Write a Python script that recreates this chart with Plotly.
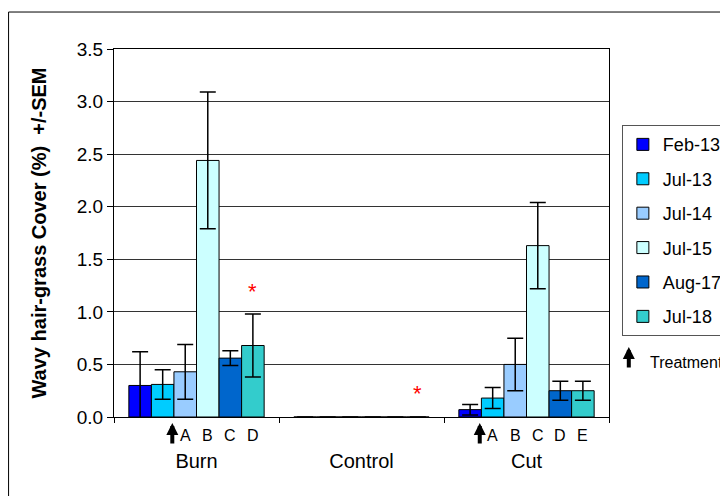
import plotly.graph_objects as go

# data
sites = ["Burn", "Control", "Cut"]
surveys = ["Feb-13", "Jul-13", "Jul-14", "Jul-15", "Aug-17", "Jul-18"]
colours = ["#0000FF", "#00CCFF", "#99CCFF", "#CCFFFF", "#0066CC", "#33CCCC"]

cover = {
    "Feb-13": [0.30, 0.0, 0.07],
    "Jul-13": [0.31, 0.0, 0.18],
    "Jul-14": [0.43, 0.0, 0.50],
    "Jul-15": [2.44, 0.0, 1.63],
    "Aug-17": [0.56, 0.0, 0.25],
    "Jul-18": [0.68, 0.0, 0.25],
}
sem = {
    "Feb-13": [0.32, 0.0, 0.05],
    "Jul-13": [0.14, 0.0, 0.10],
    "Jul-14": [0.26, 0.0, 0.25],
    "Jul-15": [0.65, 0.0, 0.41],
    "Aug-17": [0.07, 0.0, 0.09],
    "Jul-18": [0.30, 0.0, 0.09],
}

# significance stars: (site index, survey index, y)
stars = [(0, 5, 1.19), (1, 5, 0.22)]

# letters under bars: (site index, first bar index, letters), treatment arrow between bars
letters = [(0, 2, ["A", "B", "C", "D"]), (2, 1, ["A", "B", "C", "D", "E"])]
treatment_at = [(0, 1.5), (2, 0.5)]

FONT = "Arial, Liberation Sans, sans-serif"
bargap = 0.18
n = len(surveys)
bw = (1 - bargap) / n


def bar_x(site, idx):
    # centre of bar idx within the category group
    return site - (1 - bargap) / 2 + bw * (idx + 0.5)


fig = go.Figure()
for i, s in enumerate(surveys):
    fig.add_trace(go.Bar(
        x=list(range(len(sites))),
        y=cover[s],
        name=s,
        legendgroup=s,
        marker=dict(color=colours[i], line=dict(color="black", width=1)),
        error_y=dict(type="data", array=sem[s], color="black",
                     thickness=1.5, width=8),
    ))

annotations = []
for site, idx, y in stars:
    annotations.append(dict(x=bar_x(site, idx), y=y, xref="x", yref="y",
                            text="*", showarrow=False, yanchor="middle",
                            font=dict(family=FONT, size=22, color="red")))

for site, start, labs in letters:
    for k, lab in enumerate(labs):
        annotations.append(dict(x=bar_x(site, start + k), y=-0.049, xref="x",
                                yref="paper", text=lab, showarrow=False,
                                yanchor="middle",
                                font=dict(family=FONT, size=16, color="black")))

arrow_style = dict(ax=0, ay=22, text="", showarrow=True, arrowhead=2,
                   arrowsize=0.6, arrowwidth=4, arrowcolor="black")
for site, pos in treatment_at:
    annotations.append(dict(x=bar_x(site, pos) - 0.01, y=-0.016, xref="x",
                            yref="paper", **arrow_style))

# legend note
annotations.append(dict(x=1.04, y=0.19, xref="paper", yref="paper", **arrow_style))
annotations.append(dict(x=1.078, y=0.148, xref="paper", yref="paper",
                        text="Treatment", showarrow=False, xanchor="left",
                        yanchor="middle",
                        font=dict(family=FONT, size=16, color="black")))

fig.update_layout(
    width=720, height=488,
    margin=dict(l=106, r=119, t=41, b=79, autoexpand=False),
    paper_bgcolor="white", plot_bgcolor="white",
    barmode="group", bargap=bargap, bargroupgap=0,
    font=dict(family=FONT, size=19, color="black"),
    showlegend=True,
    legend=dict(x=1.026, y=0.793, xanchor="left", yanchor="top",
                bordercolor="#555555", borderwidth=1, bgcolor="white",
                font=dict(family=FONT, size=18), tracegroupgap=8,
                traceorder="grouped"),
    annotations=annotations,
    shapes=[dict(type="rect", xref="paper", yref="paper",
                 x0=-0.213, x1=1.3, y0=-0.3, y1=1.1005,
                 line=dict(color="black", width=1))],
)

fig.update_xaxes(
    tickmode="array", tickvals=list(range(len(sites))), ticktext=sites,
    range=[-0.5, len(sites) - 0.5],
    showline=True, mirror=True, linecolor="black", linewidth=1,
    ticks="", showgrid=False, zeroline=False,
    ticklabelstandoff=26, tickfont=dict(size=20),
)
# boundary ticks
fig.update_layout(xaxis2=dict(overlaying="x", matches="x", range=[-0.5, len(sites) - 0.5],
                              tickmode="array", tickvals=[-0.5, 0.5, 1.5, 2.5],
                              ticks="outside", ticklen=5, tickcolor="black",
                              showticklabels=False, showgrid=False,
                              zeroline=False, side="bottom", anchor="y"))
fig.add_trace(go.Scatter(x=[0], y=[None], xaxis="x2", showlegend=False,
                         hoverinfo="skip"))

fig.update_yaxes(
    range=[0, 3.5], dtick=0.5, tickformat=".1f",
    showline=True, mirror=True, linecolor="black", linewidth=1,
    ticks="outside", ticklen=6, tickcolor="black",
    showgrid=True, gridcolor="#333333", gridwidth=1, zeroline=False,
    title=dict(text="<b>Wavy hair-grass Cover (%)  +/-SEM</b>",
               font=dict(size=20), standoff=24),
)

fig.write_html("out.html")
